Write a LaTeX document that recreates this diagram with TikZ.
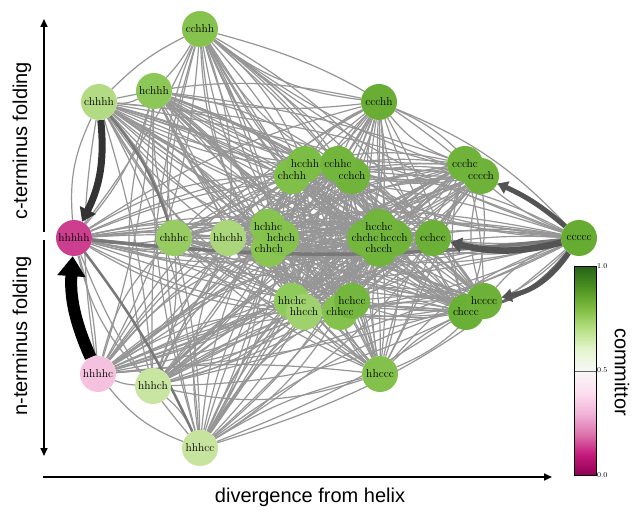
\documentclass[tikz,border=0pt]{standalone}
\usepackage{fontspec}
\newfontfamily\axisfont{Liberation Sans}
\usetikzlibrary{arrows.meta}
\pgfdeclarelayer{back}
\pgfdeclarelayer{bg}
\pgfsetlayers{back,bg,main}
% node colours
\definecolor{n-cchhh}{HTML}{86C24E}
\definecolor{n-chhhh}{HTML}{B3DB84}
\definecolor{n-hchhh}{HTML}{8DC757}
\definecolor{n-ccchh}{HTML}{6AAD35}
\definecolor{n-hcchh}{HTML}{7CBD45}
\definecolor{n-chchh}{HTML}{80BF48}
\definecolor{n-cchhc}{HTML}{73B63E}
\definecolor{n-cchch}{HTML}{71B43C}
\definecolor{n-ccchc}{HTML}{70B33B}
\definecolor{n-cccch}{HTML}{6EB23A}
\definecolor{n-hhhhh}{HTML}{CB3F8E}
\definecolor{n-chhhc}{HTML}{98CC62}
\definecolor{n-hhchh}{HTML}{ACD67C}
\definecolor{n-hchhc}{HTML}{86C34F}
\definecolor{n-hchch}{HTML}{84C24D}
\definecolor{n-chhch}{HTML}{8AC551}
\definecolor{n-hcchc}{HTML}{72B53D}
\definecolor{n-chchc}{HTML}{74B63E}
\definecolor{n-hccch}{HTML}{70B33B}
\definecolor{n-chcch}{HTML}{71B43C}
\definecolor{n-cchcc}{HTML}{6CB037}
\definecolor{n-ccccc}{HTML}{67AC32}
\definecolor{n-hhchc}{HTML}{8ECB5A}
\definecolor{n-hhcch}{HTML}{A0D16F}
\definecolor{n-hchcc}{HTML}{74B73E}
\definecolor{n-chhcc}{HTML}{84C24D}
\definecolor{n-hcccc}{HTML}{6DB138}
\definecolor{n-chccc}{HTML}{6AAF36}
\definecolor{n-hhhhc}{HTML}{F4C2DE}
\definecolor{n-hhhch}{HTML}{C8E5A1}
\definecolor{n-hhccc}{HTML}{83C04C}
\definecolor{n-hhhcc}{HTML}{C6E49D}
% PiYG stops
\definecolor{p0}{HTML}{8E0152}
\definecolor{p1}{HTML}{C51B7D}
\definecolor{p2}{HTML}{DE77AE}
\definecolor{p3}{HTML}{F1B6DA}
\definecolor{p4}{HTML}{FDE0EF}
\definecolor{p5}{HTML}{F7F7F7}
\definecolor{p6}{HTML}{E6F5D0}
\definecolor{p7}{HTML}{B8E186}
\definecolor{p8}{HTML}{7FBC41}
\definecolor{p9}{HTML}{4D9221}
\definecolor{p10}{HTML}{276419}
\definecolor{edgegray}{HTML}{969696}
\def\nodelist{cchhh,chhhh,hchhh,ccchh,hcchh,chchh,cchhc,cchch,ccchc,cccch,hhhhh,chhhc,hhchh,hchhc,hchch,chhch,hcchc,chchc,hccch,chcch,cchcc,ccccc,hhchc,hhcch,hchcc,chhcc,hcccc,chccc,hhhhc,hhhch,hhccc,hhhcc}
\tikzset{
  state/.style={circle, minimum size=36pt, inner sep=0pt, draw=none},
  statelabel/.style={inner sep=0pt, font=\fontsize{11.5}{12}\selectfont},
  thinedge/.style={draw=edgegray, line width=1.2pt},
  flux/.style={line cap=butt},
  axisarrow/.style={line width=1.6pt, -{Triangle[length=8pt,width=7pt]}},
  axislabel/.style={font=\axisfont\fontsize{20}{22}\selectfont, inner sep=0pt},
  cbtick/.style={font=\fontsize{7.5}{8}\selectfont, inner sep=1pt, anchor=west}
}
\begin{document}
\begin{tikzpicture}[x=1pt,y=-1pt]
\useasboundingbox (0,0) rectangle (634,510);
\begin{pgfonlayer}{back}
\fill[white] (0,0) rectangle (634,510);
\end{pgfonlayer}
% node discs
\foreach \n/\px/\py in {
  cchhh/200/29, chhhh/99/102, hchhh/154/91, ccchh/379/102,
  chchh/292/176, hcchh/305/164, cchch/352/176, cchhc/338/164,
  cccch/481/176, ccchc/465/164,
  hhhhh/74/238, chhhc/174/238, hhchh/228/238,
  chhch/269/249, hchhc/268/227, hchch/281/238,
  chcch/379/249, chchc/365/238, hccch/394/238, hcchc/379/227,
  cchcc/433/238, ccccc/579/238,
  hhchc/292/301, hhcch/304/312, chhcc/340/312, hchcc/352/301,
  chccc/466/312, hcccc/484/301,
  hhhhc/98/374, hhhch/153/386, hhccc/380/374, hhhcc/200/448}
{ \node[state, fill=n-\n] (\n) at (\px,\py) {}; }
% labels on top of every disc
\foreach \n in \nodelist { \node[statelabel] (l-\n) at (\n) {\n}; }
% edges
\begin{pgfonlayer}{bg}
\foreach \a [count=\i] in \nodelist {
  \foreach \b [count=\j] in \nodelist {
    \ifnum\j>\i
      \pgfmathtruncatemacro\bb{mod(\i*7+\j*3,4)*3+6}
      \pgfmathtruncatemacro\sd{mod(\i+\j,2)}
      \ifnum\sd=0
        \draw[thinedge] (\a) to[bend left=\bb] (\b);
      \else
        \draw[thinedge] (\a) to[bend right=\bb] (\b);
      \fi
    \fi
  }
}
% heavier fluxes
\draw[flux, draw=black!53, line width=3.5pt] (ccccc) to[bend left=6] (hhhhh);
\draw[flux, draw=black!53, line width=2.5pt] (chhhh) to[bend left=10] (chhhc);
\draw[flux, draw=black!53, line width=2.5pt] (hhhcc) to[bend right=6] (hhhhh);
\draw[flux, draw=black!60, line width=3pt, -{Triangle[length=8pt,width=10pt]}] (ccccc) to[bend left=18] (chccc);
\draw[flux, draw=black!67, line width=5pt, -{Triangle[length=10pt,width=13pt]}] (ccccc) to[bend left=22] (hcccc);
\draw[flux, draw=black!67, line width=5pt, -{Triangle[length=10pt,width=13pt]}] (ccccc) to[bend right=8] (cccch);
\draw[flux, draw=black!67, line width=6.5pt, -{Triangle[length=11pt,width=15pt]}] (ccccc) to[bend left=14] (cchcc);
\draw[flux, draw=black!80, line width=7pt, -{Triangle[length=13pt,width=17pt]}] (chhhh) to[bend left=16] (hhhhh);
\draw[flux, draw=black, line width=12pt, -{Triangle[length=20pt,width=27pt]}] (hhhhc) to[bend left=14] (hhhhh);
\end{pgfonlayer}
% axes
\coordinate (upA) at (44,232);
\coordinate (upB) at (44,19);
\coordinate (dnA) at (44,240);
\coordinate (dnB) at (44,456);
\coordinate (hzA) at (43,477);
\coordinate (hzB) at (552,477);
\draw[axisarrow] (upA) -- (upB);
\draw[axisarrow] (dnA) -- (dnB);
\draw[axisarrow] (hzA) -- (hzB);
\node[axislabel, rotate=90] (clab) at (22,141) {c-terminus folding};
\node[axislabel, rotate=90] (nlab) at (22,336) {n-terminus folding};
\node[axislabel] (dlab) at (310,497) {divergence from helix};
% colour bar
\foreach \k [evaluate=\k as \kk using int(\k+1)] in {0,...,9} {
  \shade[bottom color=p\k, top color=p\kk]
    (574,{475-20.8*\k}) rectangle (596,{475-20.8*(\k+1)});
}
\draw[black!60, line width=1pt] (574,371) -- (596,371);
\draw[black, line width=1pt] (574,267) rectangle (596,475);
\node[cbtick] (t1) at (596,266) {1.0};
\node[cbtick] (t5) at (596,370) {0.5};
\node[cbtick] (t0) at (596,475) {0.0};
\node[axislabel, rotate=-90] (cblab) at (622,372) {committor};
\end{tikzpicture}
\end{document}
